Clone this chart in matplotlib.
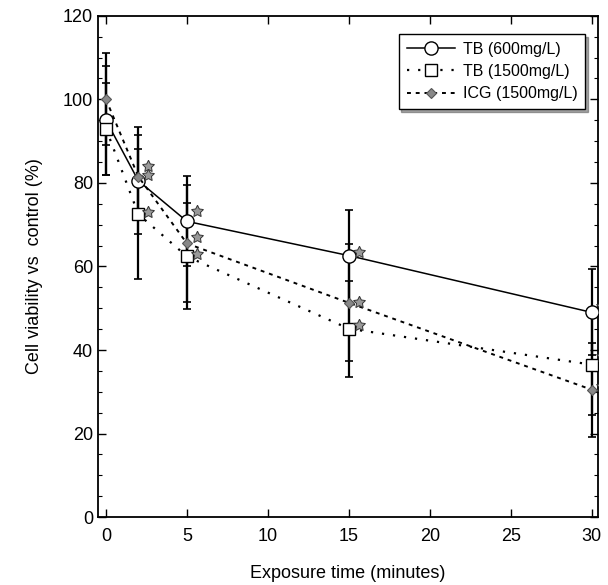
"""
Cell viability vs exposure time for TB and ICG dyes.
"""

import matplotlib.pyplot as plt
from matplotlib.ticker import MultipleLocator

plt.rcParams.update({
    'font.family': ['Liberation Sans', 'DejaVu Sans', 'sans-serif'],
    'font.size': 13,
})

# Data
time_min = [0, 2, 5, 15, 30]

tb600 = [95, 80.5, 70.8, 62.6, 49]
tb600_err = [13, 12.8, 10.8, 11, 10.3]

tb1500 = [93, 72.5, 62.4, 45.1, 36.5]
tb1500_err = [11, 15.5, 12.7, 11.5, 12]

icg = [100, 81.5, 65.5, 51.3, 30.5]
icg_err = [11, 10, 14, 14, 11.3]

# significance stars (time points after 0), vertical nudge per series
star_times = [2, 5, 15, 30]
tb600_star_dy = [3.5, 2.4, 0.8, 1.5]
tb1500_star_dy = [0.5, 0.6, 0.9, 2.0]
icg_star_dy = [0.3, 1.5, 0.3, 1.0]

fig = plt.figure(figsize=(6.08, 5.85), dpi=100)
ax = fig.add_axes([0.161, 0.116, 0.823, 0.857])

# error bars first, so markers sit on top
for vals, errs in [(tb600, tb600_err), (tb1500, tb1500_err), (icg, icg_err)]:
    ax.errorbar(time_min, vals, yerr=errs, fmt='none', ecolor='black',
                elinewidth=1.6, capsize=3, capthick=1.2, zorder=2)

ax.plot(time_min, tb600, color='black', linestyle='-', linewidth=1.1,
        marker='o', markersize=9.5, markerfacecolor='white',
        markeredgecolor='black', markeredgewidth=1.0,
        label='TB (600mg/L)', zorder=3)
ax.plot(time_min, tb1500, color='black', linestyle=(0, (1, 4)), linewidth=1.6,
        marker='s', markersize=8.5, markerfacecolor='white',
        markeredgecolor='black', markeredgewidth=1.0,
        label='TB (1500mg/L)', zorder=3)
ax.plot(time_min, icg, color='black', linestyle=(0, (2, 2.5)), linewidth=1.4,
        marker='D', markersize=5.5, markerfacecolor='#888888',
        markeredgecolor='#555555', markeredgewidth=0.8,
        label='ICG (1500mg/L)', zorder=3)

# stars just right of each marker (the ones at 30 min get clipped by the frame)
for vals, dys in [(tb600, tb600_star_dy), (tb1500, tb1500_star_dy),
                  (icg, icg_star_dy)]:
    sx = [t + 0.6 for t in star_times]
    sy = [vals[time_min.index(t)] + dy for t, dy in zip(star_times, dys)]
    ax.plot(sx, sy, linestyle='none', marker=(5, 1), markersize=9,
            markerfacecolor='#999999', markeredgecolor='#333333',
            markeredgewidth=0.7, zorder=4)

ax.set_xlim(-0.5, 30.4)
ax.set_ylim(0, 120)
ax.xaxis.set_major_locator(MultipleLocator(5))
ax.yaxis.set_major_locator(MultipleLocator(20))
ax.yaxis.set_minor_locator(MultipleLocator(5))
ax.tick_params(which='both', direction='in', top=True, right=True,
               labelsize=13)
ax.tick_params(which='major', length=6, width=1)
ax.tick_params(which='minor', length=3, width=0.8)
ax.tick_params(axis='x', pad=8)
for spine in ax.spines.values():
    spine.set_linewidth(1.3)

ax.set_xlabel('Exposure time (minutes)', fontsize=13, labelpad=14)
ax.set_ylabel('Cell viability vs  control (%)', fontsize=13, labelpad=14)

leg = ax.legend(loc='upper right', bbox_to_anchor=(0.99, 0.98),
                fontsize=11.5, frameon=True, fancybox=False, shadow=True,
                edgecolor='black', handlelength=3.0, borderpad=0.5,
                labelspacing=0.45, handletextpad=0.5)
leg.get_frame().set_linewidth(1.0)

plt.savefig('out.png', dpi=100)
plt.close()
